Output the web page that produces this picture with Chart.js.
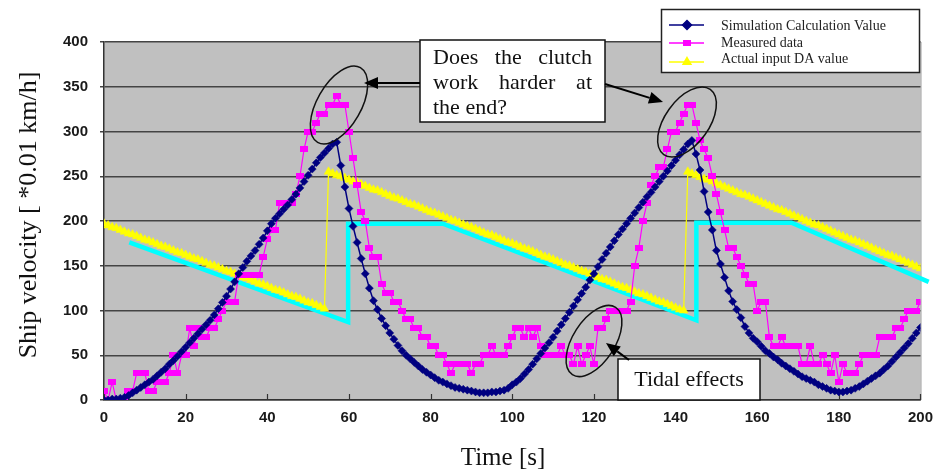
<!DOCTYPE html>
<html>
<head>
<meta charset="utf-8">
<script src="https://cdn.jsdelivr.net/npm/chart.js@4.4.0/dist/chart.umd.min.js"></script>
<style>
  html, body { margin: 0; padding: 0; background: #fff; }
  #wrap { width: 942px; height: 476px; }
</style>
</head>
<body>
<div id="wrap"><canvas id="chart-velocity" width="942" height="476"></canvas></div>
<script>

// ship velocity, one sample per second from 0 to 200 s
const simValues = [
  0, 0, 1, 1, 2, 3, 5, 8, 11, 14,
  17, 20, 23, 27, 31, 35, 40, 44, 49, 54,
  59, 64, 69, 74, 79, 84, 89, 95, 102, 109,
  116, 124, 132, 141, 148, 155, 161, 167, 174, 181,
  189, 197, 203, 208, 213, 218, 224, 230, 237, 244,
  251, 258, 265, 271, 276, 281, 286, 288, 262, 238,
  214, 194, 176, 158, 141, 125, 111, 101, 91, 83,
  75, 68, 61, 55, 50, 46, 42, 38, 34, 31,
  28, 25, 22, 20, 18, 16, 14, 13, 12, 11,
  10, 9, 8, 8, 8, 9, 9, 10, 11, 13,
  17, 20, 24, 29, 34, 40, 46, 52, 58, 64,
  70, 77, 84, 91, 98, 105, 112, 119, 126, 134,
  141, 149, 157, 164, 171, 178, 185, 191, 197, 203,
  209, 215, 221, 227, 232, 238, 244, 250, 256, 262,
  268, 274, 280, 286, 290, 275, 257, 233, 210, 190,
  167, 152, 137, 122, 110, 101, 92, 82, 75, 69,
  65, 60, 55, 52, 48, 45, 41, 38, 35, 32,
  29, 26, 24, 22, 20, 17, 15, 13, 11, 10,
  9, 9, 10, 11, 13, 15, 18, 21, 24, 27,
  30, 34, 38, 43, 48, 53, 58, 63, 69, 75,
  81
]

const measuredValues = [
  10, 0, 20, 0, 0, 0, 10, 10, 30, 30,
  30, 10, 10, 20, 20, 20, 30, 50, 30, 50,
  50, 80, 60, 80, 70, 70, 80, 80, 90, 100,
  110, 110, 110, 140, 140, 140, 140, 140, 140, 160,
  180, 190, 190, 220, 220, 220, 220, 230, 250, 280,
  300, 300, 310, 320, 320, 330, 330, 340, 330, 330,
  300, 270, 240, 210, 200, 170, 160, 160, 130, 120,
  120, 110, 110, 100, 90, 90, 80, 80, 70, 70,
  60, 60, 50, 50, 40, 30, 40, 40, 40, 40,
  30, 40, 40, 50, 50, 60, 50, 50, 50, 60,
  70, 80, 80, 70, 80, 70, 80, 60, 50, 50,
  50, 50, 60, 50, 50, 40, 60, 40, 50, 60,
  40, 80, 80, 90, 100, 100, 100, 100, 100, 110,
  150, 170, 200, 220, 240, 250, 260, 260, 280, 300,
  300, 310, 320, 330, 330, 310, 290, 280, 270, 250,
  230, 210, 190, 170, 170, 160, 150, 140, 130, 130,
  100, 110, 110, 70, 60, 60, 70, 60, 60, 60,
  60, 40, 40, 60, 40, 40, 50, 40, 30, 50,
  20, 40, 30, 30, 30, 40, 50, 50, 50, 50,
  70, 70, 70, 70, 80, 80, 90, 100, 100, 100,
  110
]

const inputDA = [
  197, 195, 193, 192, 190, 188, 186, 185, 183, 181,
  179, 178, 176, 174, 172, 171, 169, 167, 165, 164,
  162, 160, 158, 157, 155, 153, 151, 150, 148, 146,
  144, 143, 141, 139, 137, 136, 134, 132, 130, 129,
  127, 125, 123, 122, 120, 118, 116, 115, 113, 111,
  109, 108, 106, 104, 102, 255, 253, 251, 250, 248,
  246, 244, 243, 241, 239, 237, 235, 234, 232, 230,
  228, 226, 225, 223, 221, 219, 218, 216, 214, 212,
  210, 209, 207, 205, 203, 201, 200, 198, 196, 194,
  193, 191, 189, 187, 185, 184, 182, 180, 178, 176,
  175, 173, 171, 169, 168, 166, 164, 162, 160, 159,
  157, 155, 153, 151, 150, 148, 146, 144, 143, 141,
  139, 137, 135, 134, 132, 130, 128, 126, 125, 123,
  121, 119, 118, 116, 114, 112, 110, 109, 107, 105,
  103, 101, 100, 255, 253, 251, 249, 247, 246, 244,
  242, 240, 238, 236, 234, 232, 230, 229, 227, 225,
  223, 221, 219, 217, 215, 213, 212, 210, 208, 206,
  204, 202, 200, 198, 196, 195, 193, 191, 189, 187,
  185, 183, 181, 179, 178, 176, 174, 172, 170, 168,
  166, 164, 162, 161, 159, 157, 155, 153, 151, 149,
  147
]

// hand-drawn clutch command overlay (cyan)
const clutchTime = [6.2, 59.8, 59.8, 83, 145.1, 145.1, 168.4, 202]
const clutchValue = [176, 87, 197, 197, 89, 198, 198, 132]

const seriesNames = ['Simulation Calculation Value', 'Measured data', 'Actual input DA value']
const seriesColors = ['#000080', '#FF00FF', '#FFFF00']

const seconds = simValues.map((_, i) => i)
const toPoints = values => values.map((v, i) => ({ x: seconds[i], y: v }))

// small flat rectangle used as the measured-data marker
const rectMarker = document.createElement('canvas')
rectMarker.width = 8
rectMarker.height = 6
const rctx = rectMarker.getContext('2d')
rctx.fillStyle = '#FF00FF'
rctx.fillRect(0, 0, 8, 6)

const serif = '"Liberation Serif", "Times New Roman", serif'
const tickFont = { family: '"Liberation Sans", Arial, sans-serif', size: 15, weight: 'bold' }

function arrow(ctx, x1, y1, x2, y2) {
  const ang = Math.atan2(y2 - y1, x2 - x1)
  const head = 14, half = 6
  const bx = x2 - head * Math.cos(ang), by = y2 - head * Math.sin(ang)
  ctx.beginPath()
  ctx.moveTo(x1, y1)
  ctx.lineTo(bx, by)
  ctx.stroke()
  ctx.beginPath()
  ctx.moveTo(x2, y2)
  ctx.lineTo(bx + half * Math.sin(ang), by - half * Math.cos(ang))
  ctx.lineTo(bx - half * Math.sin(ang), by + half * Math.cos(ang))
  ctx.closePath()
  ctx.fill()
}

function justify(ctx, text, x, y, width) {
  const words = text.split(' ')
  const total = words.reduce((s, w) => s + ctx.measureText(w).width, 0)
  const gap = (width - total) / (words.length - 1)
  let cx = x
  words.forEach(w => {
    ctx.fillText(w, cx, y)
    cx += ctx.measureText(w).width + gap
  })
}

const plotDecor = {
  id: 'plotDecor',
  beforeDraw(chart) {
    const { ctx, chartArea: a } = chart
    ctx.save()
    ctx.fillStyle = '#C0C0C0'
    ctx.fillRect(a.left, a.top, a.right - a.left, a.bottom - a.top)
    ctx.strokeStyle = '#9a9a9a'
    ctx.lineWidth = 1
    ctx.beginPath()
    ctx.moveTo(a.right + 0.5, a.top)
    ctx.lineTo(a.right + 0.5, a.bottom)
    ctx.stroke()
    ctx.restore()
  },
  beforeDatasetsDraw(chart) {
    // tick marks on the time axis point into the plot
    const { ctx, chartArea: a, scales } = chart
    ctx.save()
    ctx.strokeStyle = '#333'
    ctx.lineWidth = 1.2
    scales.x.ticks.forEach(t => {
      const px = Math.round(scales.x.getPixelForValue(t.value)) + 0.5
      ctx.beginPath()
      ctx.moveTo(px, a.bottom)
      ctx.lineTo(px, a.bottom - 6)
      ctx.stroke()
    })
    ctx.restore()
  },
  afterDraw(chart) {
    const { ctx } = chart
    ctx.save()

    // axis titles
    ctx.fillStyle = '#111'
    ctx.font = '26px ' + serif
    ctx.textAlign = 'center'
    ctx.textBaseline = 'middle'
    ctx.save()
    ctx.translate(29, 215)
    ctx.rotate(-Math.PI / 2)
    ctx.fillText('Ship velocity [ *0.01 km/h]', 0, 0)
    ctx.restore()
    ctx.font = '25px ' + serif
    ctx.fillText('Time [s]', 503, 458)

    // legend
    ctx.fillStyle = '#fff'
    ctx.strokeStyle = '#222'
    ctx.lineWidth = 1.5
    ctx.fillRect(661.5, 9.5, 258, 63)
    ctx.strokeRect(661.5, 9.5, 258, 63)
    const rowsY = [25, 43, 62]
    const textY = [26.5, 43, 59.5]
    const styles = ['rectRot', rectMarker, 'triangle']
    rowsY.forEach((y, i) => {
      ctx.strokeStyle = seriesColors[i]
      ctx.fillStyle = seriesColors[i]
      ctx.lineWidth = 1.5
      ctx.beginPath()
      ctx.moveTo(669, y)
      ctx.lineTo(704, y)
      ctx.stroke()
      Chart.helpers.drawPoint(ctx, { pointStyle: styles[i], radius: 4.5, rotation: 0, borderWidth: 1 }, 687, y)
      ctx.fillStyle = '#222'
      ctx.font = '14px ' + serif
      ctx.textAlign = 'left'
      ctx.fillText(seriesNames[i], 721, textY[i])
    })

    // ellipses around the peaks and the tidal dip
    ctx.strokeStyle = '#111'
    ctx.lineWidth = 1.5
    ;[[339, 105, 43, 22, -1.05], [687, 122, 40, 22, -0.95], [594, 341, 40, 21, -1.0]].forEach(e => {
      ctx.beginPath()
      ctx.ellipse(e[0], e[1], e[2], e[3], e[4], 0, Math.PI * 2)
      ctx.stroke()
    })

    // question box
    ctx.fillStyle = '#fff'
    ctx.fillRect(420, 40, 185, 82)
    ctx.strokeRect(420, 40, 185, 82)
    ctx.fillStyle = '#111'
    ctx.font = '22px ' + serif
    ctx.textAlign = 'left'
    ctx.textBaseline = 'alphabetic'
    justify(ctx, 'Does the clutch', 433, 64, 159)
    justify(ctx, 'work harder at', 433, 89, 159)
    ctx.fillText('the end?', 433, 114)

    // tidal box
    ctx.fillStyle = '#fff'
    ctx.fillRect(618, 359, 142, 41)
    ctx.strokeRect(618, 359, 142, 41)
    ctx.fillStyle = '#111'
    ctx.textAlign = 'center'
    ctx.textBaseline = 'middle'
    ctx.fillText('Tidal effects', 689, 380)

    // arrows
    ctx.strokeStyle = '#000'
    ctx.fillStyle = '#000'
    ctx.lineWidth = 2
    arrow(ctx, 420, 83, 364, 83)
    arrow(ctx, 605, 84, 663, 102)
    arrow(ctx, 629, 360, 606, 343)

    ctx.restore()
  }
}

const ctxVelocity = document.getElementById('chart-velocity').getContext('2d')

new Chart(ctxVelocity, {
  type: 'line',
  data: {
    datasets: [
      {
        label: seriesNames[0],
        data: toPoints(simValues),
        borderColor: seriesColors[0],
        backgroundColor: seriesColors[0],
        borderWidth: 1.5,
        pointStyle: 'rectRot',
        pointRadius: 4,
        pointBorderWidth: 0.5,
        order: 0
      },
      {
        label: seriesNames[1],
        data: toPoints(measuredValues),
        borderColor: seriesColors[1],
        backgroundColor: seriesColors[1],
        borderWidth: 1.2,
        pointStyle: rectMarker,
        pointRadius: 4,
        order: 1
      },
      {
        label: seriesNames[2],
        data: toPoints(inputDA),
        borderColor: seriesColors[2],
        backgroundColor: seriesColors[2],
        borderWidth: 1.2,
        pointStyle: 'triangle',
        pointRadius: 5,
        pointBorderWidth: 0.5,
        order: 2
      },
      {
        label: 'clutch',
        data: clutchTime.map((t, i) => ({ x: t, y: clutchValue[i] })),
        borderColor: '#00FFFF',
        borderWidth: 4.5,
        pointRadius: 0,
        borderJoinStyle: 'miter',
        clip: false,
        order: 3
      }
    ]
  },
  options: {
    responsive: false,
    animation: false,
    devicePixelRatio: 1,
    layout: { padding: { top: 42, right: 21, left: 0, bottom: 0 } },
    plugins: {
      legend: { display: false },
      tooltip: { enabled: false }
    },
    scales: {
      x: {
        type: 'linear',
        min: 0,
        max: 200,
        afterFit: scale => { scale.height = 76 },
        ticks: { stepSize: 20, color: '#1a1a1a', font: tickFont, padding: 9, maxRotation: 0 },
        grid: { display: false, drawTicks: false },
        border: { display: true, color: '#333', width: 1.5 }
      },
      y: {
        min: 0,
        max: 400,
        afterFit: scale => { scale.width = 104 },
        ticks: { stepSize: 50, color: '#1a1a1a', font: tickFont, padding: 12 },
        grid: { color: '#444', lineWidth: 1.5, drawTicks: true, tickLength: 4 },
        border: { display: true, color: '#333', width: 1.5 }
      }
    }
  },
  plugins: [plotDecor]
})
</script>
</body>
</html>
